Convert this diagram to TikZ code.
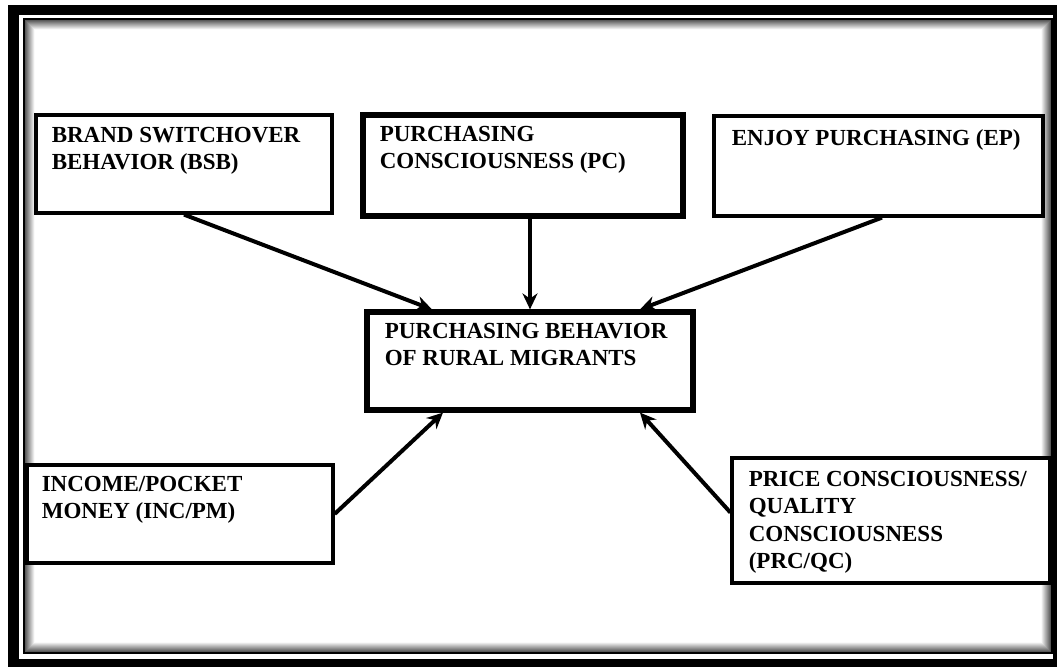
\documentclass[tikz,border=0pt]{standalone}
\usepackage{fontspec}
\setmainfont{Liberation Serif}
\usetikzlibrary{arrows.meta}
\tikzset{
  blk/.style={draw=black, line width=1.6pt, fill=white, inner sep=0pt},
  blkthick/.style={blk, line width=2.6pt},
  lbl/.style={anchor=north west, inner sep=0pt, align=left,
    font=\bfseries\fontsize{11.5}{13.8}\selectfont},
  arr/.style={-{Stealth[length=8pt,width=7.5pt]}, line width=2pt},
}
\begin{document}
\begin{tikzpicture}[x=0.5pt,y=-0.5pt]
\useasboundingbox (0,0) rectangle (1057,666);
% frame
\fill[black] (8,5) rectangle (1080,690);
\fill[white] (19,15) rectangle (1053,659);
\foreach \i [evaluate=\i as \g using int(65-7*\i)] in {0,...,9}
  \draw[black!\g, line width=0.5pt] (25.5+\i,20.5+\i) rectangle (1050.5-\i,651.5-\i);
\draw[line width=1.2pt] (24,19) rectangle (1052,653);

% boxes
\node[blk, minimum width=148pt, minimum height=49pt] (bsb) at (184,164) {};
\node[blkthick, minimum width=160pt, minimum height=50.5pt] (pc) at (523,165.5) {};
\node[blk, minimum width=164.5pt, minimum height=50pt] (ep) at (878.5,166) {};
\node[blkthick, minimum width=163pt, minimum height=49pt] (ctr) at (530,361) {};
\node[blk, minimum width=153pt, minimum height=49pt] (inc) at (180,514) {};
\node[blk, minimum width=159pt, minimum height=62.5pt] (prc) at (891,520.5) {};

% labels
\node[lbl] (bsbT) at ([xshift=8.5pt,yshift=-6.5pt]bsb.north west) {BRAND SWITCHOVER\\BEHAVIOR (BSB)};
\node[lbl] (pcT) at ([xshift=9.5pt,yshift=-6.5pt]pc.north west) {PURCHASING\\CONSCIOUSNESS (PC)};
\node[lbl] (epT) at ([xshift=9.5pt,yshift=-7.5pt]ep.north west) {ENJOY PURCHASING (EP)};
\node[lbl] (ctrT) at ([xshift=10pt,yshift=-6.5pt]ctr.north west) {PURCHASING BEHAVIOR\\OF RURAL MIGRANTS};
\node[lbl] (incT) at ([xshift=8pt,yshift=-6pt]inc.north west) {INCOME/POCKET\\MONEY (INC/PM)};
\node[lbl] (prcT) at ([xshift=9pt,yshift=-7pt]prc.north west) {PRICE CONSCIOUSNESS/\\QUALITY\\CONSCIOUSNESS\\(PRC/QC)};

% arrows
\draw[arr] (bsb.south) -- ([xshift=-49pt]ctr.north);
\draw[arr] ([xshift=3.5pt]pc.south) -- (ctr.north);
\draw[arr] ([xshift=1.75pt]ep.south) -- ([xshift=55pt]ctr.north);
\draw[arr] (inc.east) -- ([xshift=-43.5pt]ctr.south);
\draw[arr] ([yshift=4pt]prc.west) -- ([xshift=55pt]ctr.south);
\end{tikzpicture}
\end{document}
